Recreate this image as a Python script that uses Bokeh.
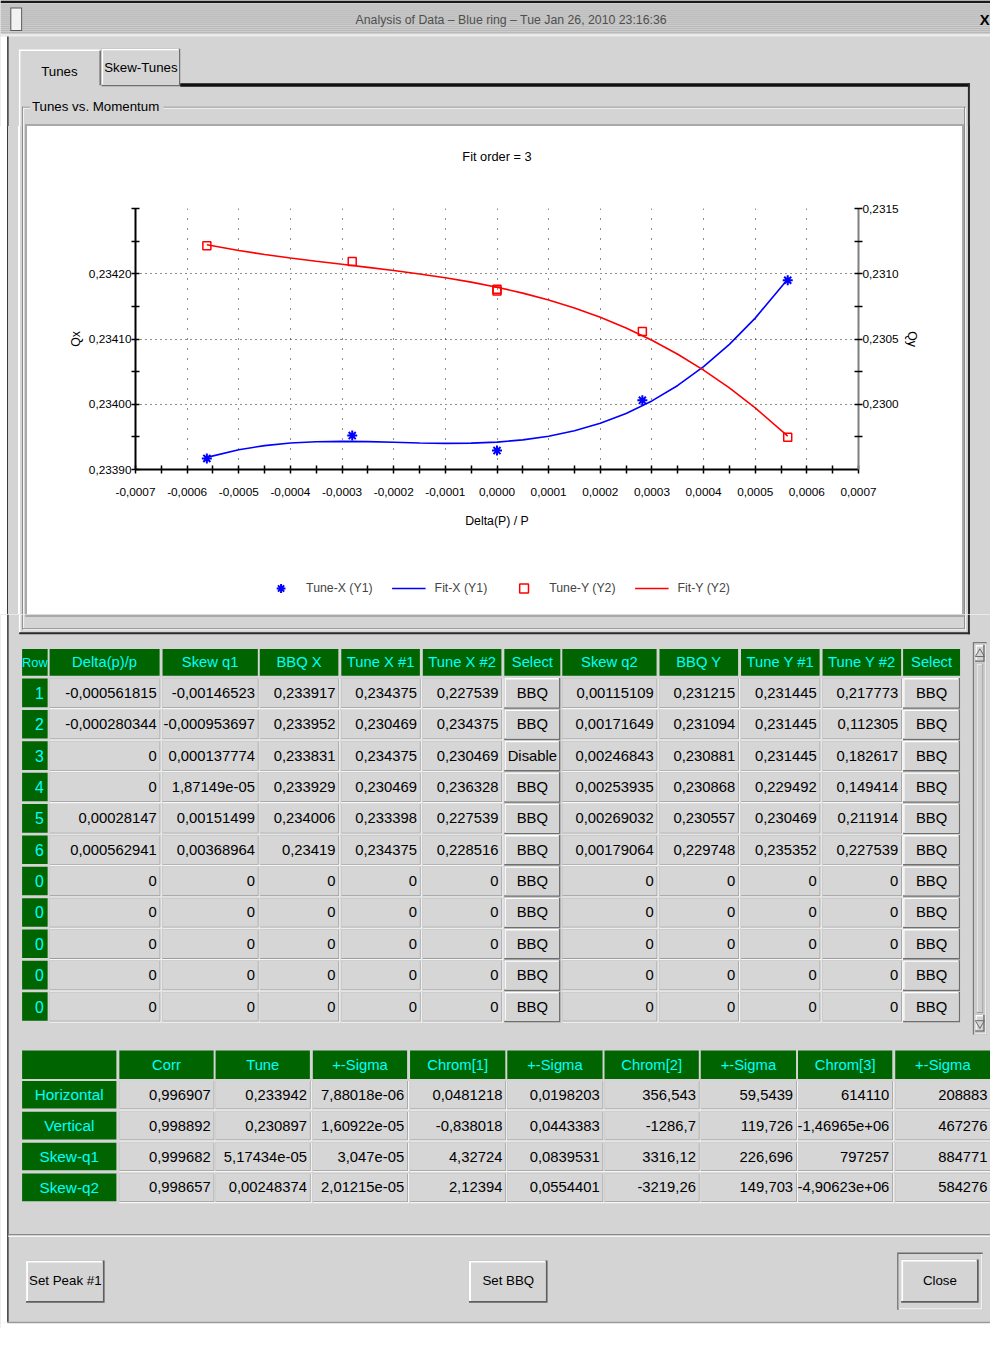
import numpy as np
from bokeh.plotting import figure
from bokeh.models import Range1d, LinearAxis, FixedTicker, CustomJSTickFormatter, Legend, LegendItem, Div
from bokeh.layouts import column, row
from bokeh.core.properties import value
from bokeh.embed import file_html
from bokeh.resources import INLINE

# ---------------------------------------------------------------- data
WINDOW_TITLE = "Analysis of Data – Blue ring – Tue Jan 26, 2010 23:16:36"
TABS = ["Tunes", "Skew-Tunes"]
GROUP_TITLE = "Tunes vs. Momentum"
CHART_TITLE = "Fit order = 3"
X_LABEL = "Delta(P) / P"
Y1_LABEL = "Qx"
Y2_LABEL = "Qy"

X_TICKS = [-0.0007, -0.0006, -0.0005, -0.0004, -0.0003, -0.0002, -0.0001, 0.0,
           0.0001, 0.0002, 0.0003, 0.0004, 0.0005, 0.0006, 0.0007]
X_TICK_LABELS = ["-0,0007", "-0,0006", "-0,0005", "-0,0004", "-0,0003", "-0,0002", "-0,0001", "0,0000",
                 "0,0001", "0,0002", "0,0003", "0,0004", "0,0005", "0,0006", "0,0007"]
Y1_TICKS = [0.2339, 0.2340, 0.2341, 0.2342]
Y1_TICK_LABELS = ["0,23390", "0,23400", "0,23410", "0,23420"]
Y1_MINOR = [0.23395, 0.23405, 0.23415, 0.23425, 0.2343]
Y2_TICKS = [0.2300, 0.2305, 0.2310, 0.2315]
Y2_TICK_LABELS = ["0,2300", "0,2305", "0,2310", "0,2315"]
Y2_MINOR = [0.22975, 0.23025, 0.23075, 0.23125]

LEGEND_LABELS = ["Tune-X (Y1)", "Fit-X (Y1)", "Tune-Y (Y2)", "Fit-Y (Y2)"]

# fitted curves
FIT_DP = [-0.000561815, -0.0005, -0.00045, -0.0004, -0.00035, -0.0003, -0.00025, -0.0002,
          -0.00015, -0.0001, -0.00005, 0.0, 0.00005, 0.0001, 0.00015, 0.0002, 0.00025,
          0.0003, 0.00035, 0.0004, 0.00045, 0.0005, 0.000562941]
FIT_X = [0.2339186, 0.2339303, 0.2339366, 0.2339405, 0.2339425, 0.2339431, 0.2339427, 0.2339417,
         0.2339407, 0.2339401, 0.2339404, 0.2339420, 0.2339454, 0.2339510, 0.2339593, 0.2339708,
         0.2339859, 0.2340051, 0.2340288, 0.2340576, 0.2340918, 0.2341320, 0.2341916]
FIT_Y = [0.2312223, 0.2311780, 0.2311474, 0.2311204, 0.2310957, 0.2310723, 0.2310490, 0.2310249,
         0.2309987, 0.2309694, 0.2309359, 0.2308970, 0.2308517, 0.2307989, 0.2307374, 0.2306662,
         0.2305841, 0.2304901, 0.2303831, 0.2302618, 0.2301254, 0.2299726, 0.2297555]

# data grid
GRID_HEADERS = ["Row", "Delta(p)/p", "Skew q1", "BBQ X", "Tune X #1", "Tune X #2", "Select",
                "Skew q2", "BBQ Y", "Tune Y #1", "Tune Y #2", "Select"]
ROW_IDS = ["1", "2", "3", "4", "5", "6", "0", "0", "0", "0", "0"]
DELTA_P = [-0.000561815, -0.000280344, 0, 0, 0.00028147, 0.000562941, 0, 0, 0, 0, 0]
SKEW_Q1 = [-0.00146523, -0.000953697, 0.000137774, 1.87149e-05, 0.00151499, 0.00368964, 0, 0, 0, 0, 0]
BBQ_X = [0.233917, 0.233952, 0.233831, 0.233929, 0.234006, 0.23419, 0, 0, 0, 0, 0]
TUNE_X1 = [0.234375, 0.230469, 0.234375, 0.230469, 0.233398, 0.234375, 0, 0, 0, 0, 0]
TUNE_X2 = [0.227539, 0.234375, 0.230469, 0.236328, 0.227539, 0.228516, 0, 0, 0, 0, 0]
SELECT_X = ["BBQ", "BBQ", "Disable", "BBQ", "BBQ", "BBQ", "BBQ", "BBQ", "BBQ", "BBQ", "BBQ"]
SKEW_Q2 = [0.00115109, 0.00171649, 0.00246843, 0.00253935, 0.00269032, 0.00179064, 0, 0, 0, 0, 0]
BBQ_Y = [0.231215, 0.231094, 0.230881, 0.230868, 0.230557, 0.229748, 0, 0, 0, 0, 0]
TUNE_Y1 = [0.231445, 0.231445, 0.231445, 0.229492, 0.230469, 0.235352, 0, 0, 0, 0, 0]
TUNE_Y2 = [0.217773, 0.112305, 0.182617, 0.149414, 0.211914, 0.227539, 0, 0, 0, 0, 0]
SELECT_Y = ["BBQ", "BBQ", "BBQ", "BBQ", "BBQ", "BBQ", "BBQ", "BBQ", "BBQ", "BBQ", "BBQ"]
N_FILLED = 6

# summary table
SUM_HEADERS = ["", "Corr", "Tune", "+-Sigma", "Chrom[1]", "+-Sigma", "Chrom[2]", "+-Sigma", "Chrom[3]", "+-Sigma"]
SUM_ROWS = ["Horizontal", "Vertical", "Skew-q1", "Skew-q2"]
CORR = [0.996907, 0.998892, 0.999682, 0.998657]
TUNE = [0.233942, 0.230897, 5.17434e-05, 0.00248374]
TUNE_SIG = [7.88018e-06, 1.60922e-05, 3.047e-05, 2.01215e-05]
CHROM1 = [0.0481218, -0.838018, 4.32724, 2.12394]
CHROM1_SIG = [0.0198203, 0.0443383, 0.0839531, 0.0554401]
CHROM2 = [356.543, -1286.7, 3316.12, -3219.26]
CHROM2_SIG = [59.5439, 119.726, 226.696, 149.703]
CHROM3 = [614110, -1.46965e+06, 797257, -4.90623e+06]
CHROM3_SIG = [208883, 467276, 884771, 584276]

BUTTONS = ["Set Peak #1", "Set BBQ", "Close"]

# ---------------------------------------------------------------- geometry / style
REF_W, REF_H = 1008, 1346
PAGE_W, PAGE_H = 990, 1328
SX = PAGE_W / REF_W
SY = PAGE_H / REF_H


def X(x):
    return int(round(x * SX))


def Y(y):
    return int(round(y * SY))


def fs(px):
    return f"{px * SY:.1f}px"


FONT = "Liberation Sans"
BG = "#d4d4d4"
GREEN = "#006400"
CYAN = "#00ffff"
CELL = "#d6d6d6"
DARK = "#8a8a8a"
LIGHT = "#f6f6f6"
BLUE = "#0000ff"
RED = "#ff0000"


def fmt(v):
    return f"{v:g}".replace(".", ",")


class Painter:
    def __init__(self, p):
        self.p = p
        self.q = dict(l=[], r=[], t=[], b=[], c=[])

    def rect(self, l, r, t, b, c):
        q = self.q
        q["l"].append(l); q["r"].append(r); q["t"].append(t); q["b"].append(b); q["c"].append(c)

    def hline(self, x0, x1, y, c, w=1.0):
        self.rect(x0, x1, y - w / 2, y + w / 2, c)

    def vline(self, x, y0, y1, c, w=1.0):
        self.rect(x - w / 2, x + w / 2, y0, y1, c)

    def flush(self):
        q = self.q
        if q["l"]:
            self.p.quad(left=q["l"], right=q["r"], top=q["t"], bottom=q["b"],
                        fill_color=q["c"], line_color=None)
        self.q = dict(l=[], r=[], t=[], b=[], c=[])

    def text(self, xs, ys, texts, size, color="black", align="left", style="normal"):
        self.flush()
        self.p.text(x=xs, y=ys, text=texts, text_font=value(FONT), text_font_size=value(fs(size)),
                    text_color=color, text_align=align, text_baseline="middle", text_font_style=style)

    def raised(self, l, r, t, b, face=BG, lo="#6e6e6e", w=1.5):
        self.rect(l, r, t, b, lo)
        self.rect(l, r - w, t, b - w, "#ffffff")
        self.rect(l + w, r - w, t + w, b - w, face)

    def sunken_cell(self, l, r, t, b):
        self.rect(l, r + 2, t, b + 2, LIGHT)
        self.rect(l, r + 0.8, t, b + 0.8, "#9c9c9c")
        self.rect(l, r, t, b, CELL)


def gui_fig(x0, x1, y0, y1, bg=BG, xr=None):
    p = figure(width=X(x1) - X(x0), height=Y(y1) - Y(y0),
               x_range=xr if xr is not None else Range1d(x0, x1), y_range=Range1d(y1, y0),
               output_backend="svg", toolbar_location=None, min_border=0,
               x_axis_location=None, y_axis_location=None)
    p.xgrid.visible = False
    p.ygrid.visible = False
    p.outline_line_color = None
    p.background_fill_color = bg
    p.border_fill_color = bg
    return p


def frame_verticals(P, y0, y1):
    P.rect(0, 7, y0, y1, "#ffffff")
    P.vline(7.5, y0, y1, "#3a3a3a", 1.5)


def strip_div(x0, x1, y0, y1, bands):
    stops = []
    for (a, b, c) in bands:
        stops.append(f"{c} {(a - x0) * SX:.2f}px")
        stops.append(f"{c} {(b - x0) * SX:.2f}px")
    grad = "linear-gradient(to right, " + ", ".join(stops) + ")"
    return Div(text="", width=X(x1) - X(x0), height=Y(y1) - Y(y0), margin=0,
               styles={"background": grad, "padding": "0px"})


# ---------------------------------------------------------------- top part
top = gui_fig(0, 1008, 0, 128)
T = Painter(top)
T.rect(0, 1008, 0, 36, "#cdcdcd")
for yy in np.arange(4, 34, 2):
    T.hline(0, 1008, yy + 0.5, "#b9b9b9", 1)
T.rect(0, 1008, 0, 2.5, "#1a1a1a")
T.rect(0, 1008, 34, 36.5, "#ebebeb")
T.rect(10, 22, 7, 31, "#5a5a5a")
T.rect(11, 21, 8, 30, "#f2f2f2")
frame_verticals(T, 36.5, 128)
# tabs
T.raised(103, 183, 49, 87)
T.rect(19, 102, 50, 128, BG)
T.hline(19, 101, 50.5, "#ffffff", 1.5)
T.vline(101.5, 51, 86, "#6e6e6e", 1.5)
T.rect(183, 987, 84, 87.5, "#111111")
T.vline(19.5, 50, 128, "#ffffff", 1.5)
T.vline(986, 84, 128, "#2a2a2a", 2)
# group box
T.hline(22, 30, 108.5, DARK); T.hline(23, 30, 109.5, LIGHT)
T.hline(166, 983, 108.5, DARK); T.hline(166, 983, 109.5, LIGHT)
T.vline(22.5, 108, 128, DARK); T.vline(23.5, 109, 128, LIGHT)
T.vline(981.5, 108, 128, DARK); T.vline(982.5, 109, 128, LIGHT)
# chart panel border
T.rect(25, 981, 125.5, 128, "#a9a9a9")
T.flush()
T.text([520], [20], [WINDOW_TITLE], 12.5, color="#4f4f4f", align="center")
T.text([1007], [20], ["X"], 15, color="black", style="bold", align="right")
T.text([60], [72], [TABS[0]], 13.5, align="center")
T.text([143], [68], [TABS[1]], 13.5, align="center")
T.text([32], [108], [GROUP_TITLE], 13.5)

# ---------------------------------------------------------------- side strips (plain page blocks)
lstrip = strip_div(0, 27, 128, 622, [(0, 7, "#ffffff"), (7, 8.5, "#3a3a3a"), (8.5, 18.8, BG),
                                     (18.8, 20.3, "#ffffff"), (20.3, 22, BG), (22, 23, DARK),
                                     (23, 24, LIGHT), (24, 25, BG), (25, 27, "#a9a9a9")])
rstrip = strip_div(979, 1008, 128, 622, [(979, 981, "#a9a9a9"), (981, 982, DARK), (982, 983, LIGHT),
                                         (983, 985, BG), (985, 987, "#2a2a2a"), (987, 1008, BG)])

# ---------------------------------------------------------------- chart title strip
title_fig = gui_fig(27, 979, 128, 190, bg="white", xr=Range1d(0, 1))
title_fig.text(x=[0.5], y=[158], text=[CHART_TITLE], text_font=value(FONT), text_font_size=value(fs(13)),
               text_color="black", text_align="center", text_baseline="middle")

# ---------------------------------------------------------------- chart
chart = figure(width=X(979) - X(27), height=Y(570) - Y(190),
               x_range=Range1d(-0.0007, 0.0007), y_range=Range1d(0.2339, 0.2343),
               output_backend="svg", toolbar_location=None,
               min_border_left=X(137) - X(27), min_border_right=X(979) - X(874),
               min_border_top=Y(211) - Y(190), min_border_bottom=Y(570) - Y(475))
chart.background_fill_color = "white"
chart.border_fill_color = "white"
chart.outline_line_color = None
chart.extra_y_ranges = {"y2": Range1d(0.2295, 0.2315)}

JS = """
let best = -1, bd = Infinity;
for (let i = 0; i < tvals.length; i++) {
  const d = Math.abs(tvals[i] - tick);
  if (d < bd) { bd = d; best = i; }
}
return (best >= 0 && bd < 1e-9) ? tlabels[best] : "";
"""

X_MINOR = [(a + b) / 2 for a, b in zip(X_TICKS[:-1], X_TICKS[1:])]

xa = chart.xaxis[0]
xa.ticker = FixedTicker(ticks=X_TICKS, minor_ticks=X_MINOR)
xa.formatter = CustomJSTickFormatter(args=dict(tvals=X_TICKS, tlabels=X_TICK_LABELS), code=JS)
xa.axis_label = X_LABEL
xa.major_label_standoff = 14
xa.axis_label_standoff = 15

ya = chart.yaxis[0]
ya.ticker = FixedTicker(ticks=Y1_TICKS, minor_ticks=Y1_MINOR)
ya.formatter = CustomJSTickFormatter(args=dict(tvals=Y1_TICKS, tlabels=Y1_TICK_LABELS), code=JS)
ya.axis_label = Y1_LABEL
ya.major_label_standoff = 0
ya.axis_label_standoff = 3

ya2 = LinearAxis(y_range_name="y2")
ya2.ticker = FixedTicker(ticks=Y2_TICKS, minor_ticks=Y2_MINOR)
ya2.formatter = CustomJSTickFormatter(args=dict(tvals=Y2_TICKS, tlabels=Y2_TICK_LABELS), code=JS)
ya2.axis_label = Y2_LABEL
ya2.major_label_standoff = 0
ya2.axis_label_standoff = 3
chart.add_layout(ya2, "right")

for ax in (xa, ya, ya2):
    ax.axis_line_color = "black"
    ax.axis_line_width = 2
    ax.major_tick_in = 4
    ax.major_tick_out = 4
    ax.minor_tick_in = 4
    ax.minor_tick_out = 4
    ax.major_tick_line_color = "black"
    ax.minor_tick_line_color = "black"
    ax.major_tick_line_width = 1.5
    ax.minor_tick_line_width = 1.5
    ax.major_label_text_font = FONT
    ax.major_label_text_font_size = fs(12)
    ax.major_label_text_color = "black"
    ax.axis_label_text_font = FONT
    ax.axis_label_text_font_size = fs(12.5)
    ax.axis_label_text_font_style = "normal"
    ax.axis_label_text_color = "black"
ya2.axis_line_color = "#808080"

chart.xgrid[0].grid_line_color = "#202020"
chart.xgrid[0].grid_line_dash = "1 9"
chart.ygrid[0].grid_line_color = "#202020"
chart.ygrid[0].grid_line_dash = "1 4"

# points (disabled rows are not plotted)
tx_dp = [d for d, s in zip(DELTA_P[:N_FILLED], SELECT_X[:N_FILLED]) if s != "Disable"]
tx_q = [q for q, s in zip(BBQ_X[:N_FILLED], SELECT_X[:N_FILLED]) if s != "Disable"]
ty_dp = [d for d, s in zip(DELTA_P[:N_FILLED], SELECT_Y[:N_FILLED]) if s != "Disable"]
ty_q = [q for q, s in zip(BBQ_Y[:N_FILLED], SELECT_Y[:N_FILLED]) if s != "Disable"]

STYLE_TX = dict(marker="asterisk", size=10, line_color=BLUE, line_width=2)
STYLE_FX = dict(line_color=BLUE, line_width=1.6)
STYLE_TY = dict(marker="square", size=8, fill_color=None, line_color=RED, line_width=1.5)
STYLE_FY = dict(line_color=RED, line_width=1.6)

chart.line(FIT_DP, FIT_X, **STYLE_FX)
chart.line(FIT_DP, FIT_Y, y_range_name="y2", **STYLE_FY)
chart.scatter(tx_dp, tx_q, **STYLE_TX)
chart.scatter(ty_dp, ty_q, y_range_name="y2", **STYLE_TY)

# ---------------------------------------------------------------- legend strip under the chart
# legend proxies: same series, drawn in a strip whose ranges keep them out of view
legend_fig = gui_fig(27, 979, 570, 622, bg="white", xr=Range1d(0, 1))
lg_tx = legend_fig.scatter(tx_dp, tx_q, **STYLE_TX)
lg_fx = legend_fig.line(FIT_DP, FIT_X, **STYLE_FX)
lg_ty = legend_fig.scatter(ty_dp, ty_q, **STYLE_TY)
lg_fy = legend_fig.line(FIT_DP, FIT_Y, **STYLE_FY)
legend = Legend(items=[LegendItem(label=LEGEND_LABELS[0], renderers=[lg_tx]),
                       LegendItem(label=LEGEND_LABELS[1], renderers=[lg_fx]),
                       LegendItem(label=LEGEND_LABELS[2], renderers=[lg_ty]),
                       LegendItem(label=LEGEND_LABELS[3], renderers=[lg_fy])],
                orientation="horizontal", location="center")
legend.padding = 0
legend.margin = 0
legend.spacing = X(19)
legend.glyph_width = X(35)
legend.glyph_height = 22
legend.label_height = 22
legend.label_standoff = 9
legend.border_line_color = None
legend.background_fill_color = None
legend.label_text_font = FONT
legend.label_text_font_size = fs(12.5)
legend_fig.add_layout(legend)

# ---------------------------------------------------------------- bottom part
bottom = gui_fig(0, 1008, 622, 1346)
Bp = Painter(bottom)
frame_verticals(Bp, 622, 1340)
Bp.rect(25, 981, 622, 624.5, "#a9a9a9")
Bp.vline(22.5, 622, 637, DARK); Bp.vline(23.5, 622, 637, LIGHT)
Bp.vline(981.5, 622, 637, DARK); Bp.vline(982.5, 622, 638, LIGHT)
Bp.hline(22, 982, 636.5, DARK); Bp.hline(23, 983, 637.5, LIGHT)
Bp.vline(19.5, 622, 641, "#ffffff", 1.5)
Bp.vline(986, 622, 642, "#2a2a2a", 2)
Bp.hline(19, 987, 641, "#2a2a2a", 2)

# data grid
GRID_COLS = [(22, 48), (50, 162), (165, 262), (264, 344), (347, 427), (430, 510), (513, 570),
             (572, 668), (671, 751), (754, 834), (837, 917), (919, 977)]
GRID_VALUES = [DELTA_P, SKEW_Q1, BBQ_X, TUNE_X1, TUNE_X2, SELECT_X,
               SKEW_Q2, BBQ_Y, TUNE_Y1, TUNE_Y2, SELECT_Y]
HEAD_T, HEAD_B = 657, 684
ROW_T0, ROW_PITCH, ROW_H = 687, 31.8, 29
n_rows = len(ROW_IDS)

for (x0, x1) in GRID_COLS:
    Bp.rect(x0, x1, HEAD_T, HEAD_B, GREEN)
for i in range(n_rows):
    y0 = ROW_T0 + i * ROW_PITCH
    y1 = y0 + ROW_H
    Bp.rect(GRID_COLS[0][0], GRID_COLS[0][1], y0, y1, GREEN)
    for j, (x0, x1) in enumerate(GRID_COLS[1:]):
        if isinstance(GRID_VALUES[j][i], str):
            Bp.raised(x0, x1, y0 - 0.5, y1 + 1.5)
        else:
            Bp.sunken_cell(x0, x1, y0, y1)

# scrollbar
Bp.rect(990, 1004, 650, 1048, "#7a7a7a")
Bp.rect(991.5, 1004, 651.5, 1048, "#f0f0f0")
Bp.rect(991.5, 1002.5, 651.5, 1046.5, "#cbcbcb")
Bp.raised(992.5, 1002, 653, 670)
Bp.raised(992.5, 1002, 1028, 1045)
Bp.rect(994, 1000.5, 672, 1026, "#9a9a9a")
Bp.rect(994, 999.5, 672, 1025, "#eeeeee")
Bp.rect(995, 999.5, 673, 1025, "#cfcfcf")

# summary table
SUM_COLS = [(22, 118), (121, 217), (219, 315), (318, 414), (417, 514), (516, 613),
            (615, 711), (713, 810), (812, 908), (911, 1008)]
SUM_VALUES = [CORR, TUNE, TUNE_SIG, CHROM1, CHROM1_SIG, CHROM2, CHROM2_SIG, CHROM3, CHROM3_SIG]
SH_T, SH_B = 1064, 1093
SR_T0, SR_PITCH, SR_H = 1095, 31.3, 28
for (x0, x1) in SUM_COLS:
    Bp.rect(x0, x1, SH_T, SH_B, GREEN)
for i in range(len(SUM_ROWS)):
    y0 = SR_T0 + i * SR_PITCH
    y1 = y0 + SR_H
    Bp.rect(SUM_COLS[0][0], SUM_COLS[0][1], y0, y1, GREEN)
    for (x0, x1) in SUM_COLS[1:]:
        Bp.sunken_cell(x0, x1, y0, y1)

# separator + buttons
Bp.hline(8, 1008, 1251, "#8a8a8a", 1.5)
Bp.hline(8, 1008, 1252.5, LIGHT, 1.5)
BTN_BOXES = [(26, 106, 1277, 1320), (477, 557, 1277, 1320), (917, 996, 1276, 1320)]
Bp.rect(913, 1000, 1269, 1327, "#6a6a6a")
Bp.rect(914.5, 1000, 1270.5, 1327, LIGHT)
Bp.rect(914.5, 998.5, 1270.5, 1325.5, BG)
for (l, r, t, b) in BTN_BOXES:
    Bp.raised(l, r, t, b, lo="#5e5e5e", w=2)
Bp.rect(0, 1008, 1340, 1346, "#ffffff")
Bp.hline(7, 1008, 1340, "#9a9a9a", 1.5)
Bp.flush()

# triangles of the scrollbar
bottom.scatter([997.2], [662], marker="triangle", size=9, fill_color=None, line_color="#6a6a6a")
bottom.scatter([997.2], [1036.5], marker="inverted_triangle", size=9, fill_color=None, line_color="#6a6a6a")

# texts: data grid
Bp.text([(x0 + x1) / 2 for (x0, x1) in GRID_COLS[1:]], [(HEAD_T + HEAD_B) / 2] * (len(GRID_COLS) - 1),
        GRID_HEADERS[1:], 15, color=CYAN, align="center")
Bp.text([(GRID_COLS[0][0] + GRID_COLS[0][1]) / 2], [(HEAD_T + HEAD_B) / 2], GRID_HEADERS[:1], 13,
        color=CYAN, align="center")
row_cy = [ROW_T0 + i * ROW_PITCH + ROW_H / 2 for i in range(n_rows)]
Bp.text([GRID_COLS[0][1] - 4] * n_rows, row_cy, ROW_IDS, 16, color=CYAN, align="right")
for j, (x0, x1) in enumerate(GRID_COLS[1:]):
    vals = GRID_VALUES[j]
    if isinstance(vals[0], str):
        Bp.text([(x0 + x1) / 2] * n_rows, row_cy, vals, 15, align="center")
    else:
        Bp.text([x1 - 3] * n_rows, row_cy, [fmt(v) for v in vals], 15, align="right")

# texts: summary table
Bp.text([(x0 + x1) / 2 for (x0, x1) in SUM_COLS[1:]], [(SH_T + SH_B) / 2] * (len(SUM_COLS) - 1),
        SUM_HEADERS[1:], 15, color=CYAN, align="center")
sum_cy = [SR_T0 + i * SR_PITCH + SR_H / 2 for i in range(len(SUM_ROWS))]
Bp.text([(SUM_COLS[0][0] + SUM_COLS[0][1]) / 2] * len(SUM_ROWS), sum_cy, SUM_ROWS, 15.5,
        color=CYAN, align="center")
for j, (x0, x1) in enumerate(SUM_COLS[1:]):
    Bp.text([x1 - 3] * len(SUM_ROWS), sum_cy, [fmt(v) for v in SUM_VALUES[j]], 15, align="right")

# texts: buttons
Bp.text([(l + r) / 2 for (l, r, t, b) in BTN_BOXES], [(t + b) / 2 - 1 for (l, r, t, b) in BTN_BOXES],
        BUTTONS, 13.5, align="center")

middle = row(lstrip, column(title_fig, chart, legend_fig), rstrip)
layout = column(top, middle, bottom)
open("out.html", "w").write(file_html(layout, INLINE))
